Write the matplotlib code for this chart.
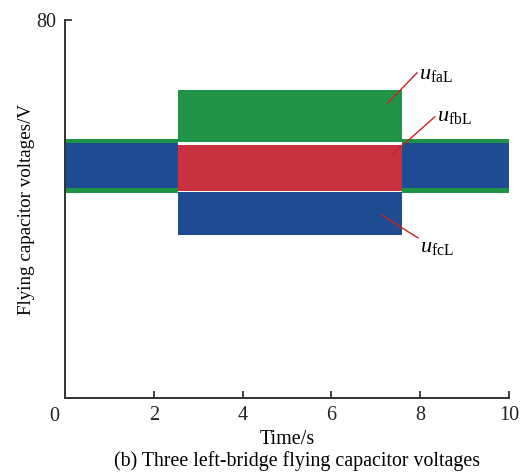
import matplotlib
matplotlib.use("Agg")
import matplotlib.pyplot as plt

# Segment boundaries (s)
seg_times = [0.0, 2.55, 7.6, 10.0]

# Envelope (lower, upper) of each capacitor voltage per segment (V)
faL_lower = [43.4, 54.2, 43.4]
faL_upper = [54.9, 65.2, 54.9]
fbL_lower = [45.0, 43.8, 45.0]
fbL_upper = [53.5, 53.5, 53.5]
fcL_lower = [44.4, 34.5, 44.4]
fcL_upper = [54.0, 43.6, 54.0]

xticks = [2, 4, 6, 8, 10]
yticks = [80]

colors = {"faL": "#1f9447", "fbL": "#c8323e", "fcL": "#1f4b93"}

plt.rcParams['font.family'] = ['Liberation Serif', 'DejaVu Serif']
plt.rcParams['mathtext.fontset'] = 'custom'
plt.rcParams['mathtext.rm'] = 'Liberation Serif'
plt.rcParams['mathtext.it'] = 'Liberation Serif:italic'

fig = plt.figure(figsize=(5.21, 4.74), dpi=100)
ax = fig.add_axes([0.1248, 0.160, 0.852, 0.798])


def step_xy(lo, hi):
    xs, los, his = [], [], []
    for i in range(len(lo)):
        xs += [seg_times[i], seg_times[i + 1]]
        los += [lo[i], lo[i]]
        his += [hi[i], hi[i]]
    return xs, los, his


for name, lo, hi in [("faL", faL_lower, faL_upper),
                     ("fbL", fbL_lower, fbL_upper),
                     ("fcL", fcL_lower, fcL_upper)]:
    xs, los, his = step_xy(lo, hi)
    ax.fill_between(xs, los, his, color=colors[name], linewidth=0)

ax.set_xlim(0, 10)
ax.set_ylim(0, 80)
ax.set_xticks(xticks)
ax.set_yticks(yticks)
ax.tick_params(direction='in', length=5, width=1.2, labelsize=14.5, colors='#222222', pad=6)
for s in ['top', 'right']:
    ax.spines[s].set_visible(False)
for s in ['left', 'bottom']:
    ax.spines[s].set_linewidth(1.4)
    ax.spines[s].set_color('#333333')

ax.text(-0.25, -1.8, "0", ha='center', va='top', fontsize=14.5, color='#222222')

ax.set_ylabel("Flying capacitor voltages/V", fontsize=13.7, labelpad=1)
ax.set_xlabel("Time/s", fontsize=14.5, labelpad=3)
fig.text(0.570, 0.006, "(b) Three left-bridge flying capacitor voltages",
         ha='center', va='bottom', fontsize=14.3)

ann = dict(color='#d02020', lw=1.0)
ax.plot([7.27, 7.93], [62.4, 68.8], **ann)
ax.plot([7.36, 8.33], [51.4, 59.5], **ann)
ax.plot([7.14, 7.95], [38.7, 33.9], **ann)
ax.text(7.97, 68.5, r"$u_{\mathrm{faL}}$", fontsize=16, va='center', ha='left')
ax.text(8.37, 59.5, r"$u_{\mathrm{fbL}}$", fontsize=16, va='center', ha='left')
ax.text(8.0, 31.8, r"$u_{\mathrm{fcL}}$", fontsize=16, va='center', ha='left')

fig.savefig("out.png", dpi=100)
